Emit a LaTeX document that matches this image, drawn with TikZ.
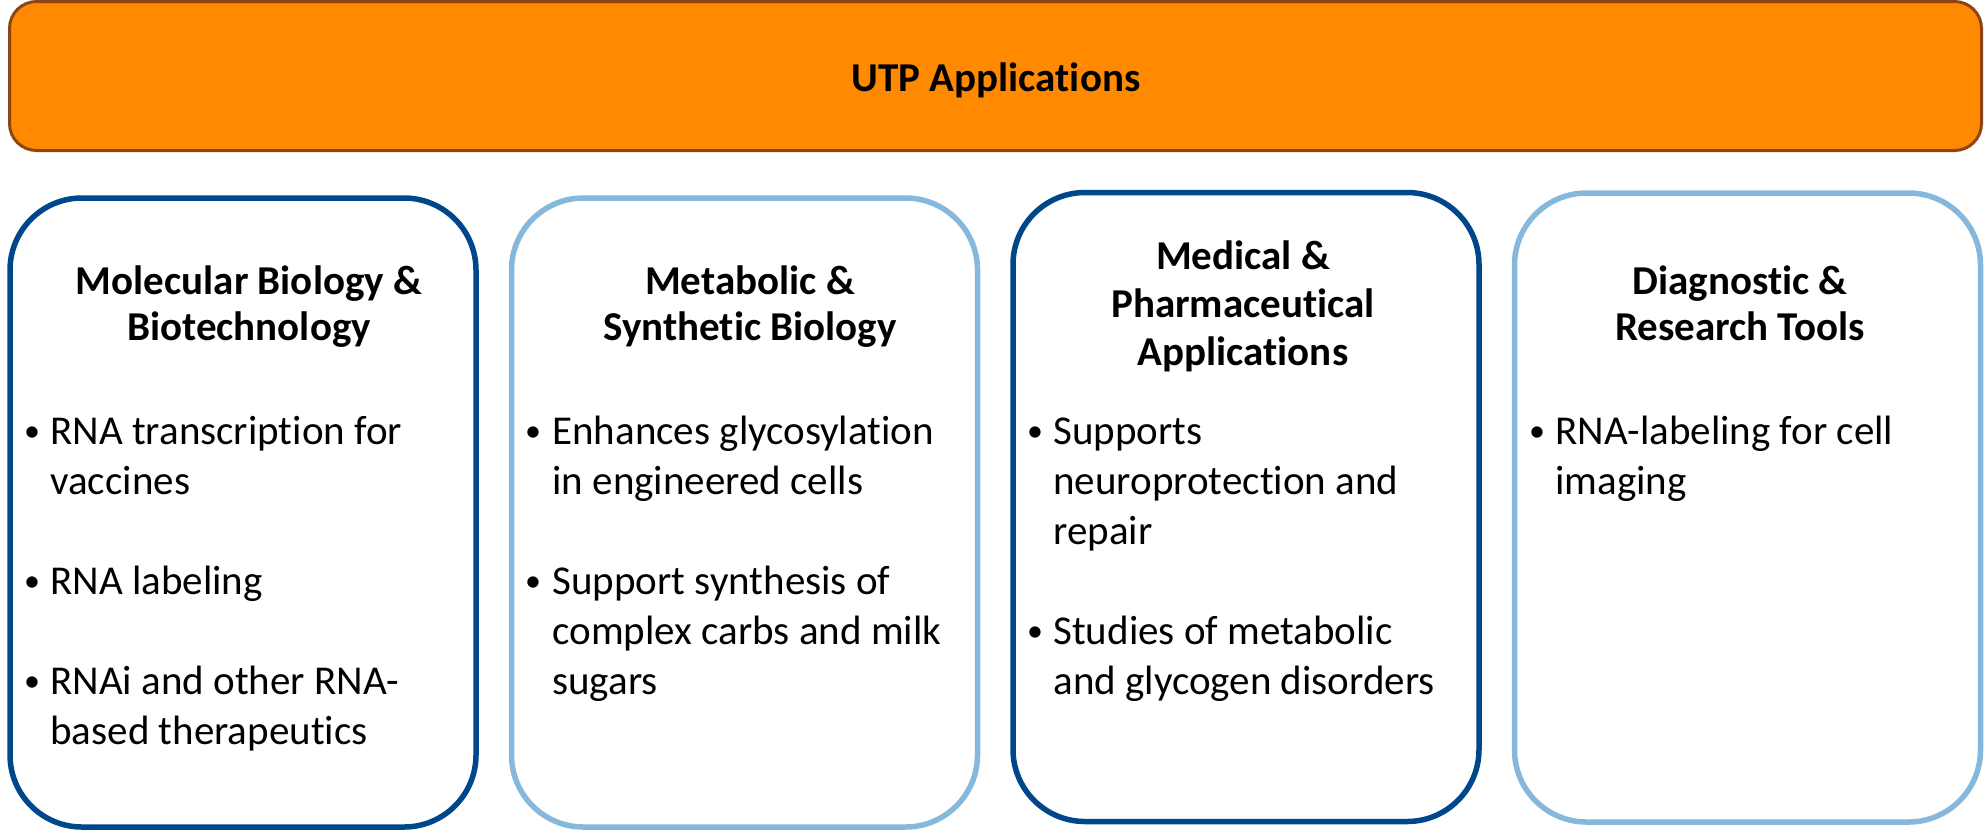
\documentclass[tikz,border=0pt]{standalone}
\usepackage{fontspec}
\setmainfont[Ligatures=NoCommon]{Carlito}
\definecolor{orangefill}{RGB}{255,137,0}
\definecolor{brownline}{RGB}{140,70,20}
\definecolor{darkblue}{RGB}{0,70,138}
\definecolor{lightblue}{RGB}{133,184,220}
\tikzset{
 topbox/.style={draw=brownline, fill=orangefill, line width=1.5pt, rounded corners=13.5pt, minimum width=986pt, minimum height=74.5pt, inner sep=0pt},
 catbox/.style={fill=white, line width=2.75pt, rounded corners=36pt, minimum width=233pt, minimum height=314.5pt, inner sep=0pt},
 darkbox/.style={catbox, draw=darkblue},
 lightbox/.style={catbox, draw=lightblue},
 head/.style={anchor=base, inner sep=0pt, font=\fontsize{20.5}{23}\selectfont\bfseries},
 txt/.style={anchor=base west, inner sep=0pt, font=\fontsize{20.5}{25}\selectfont},
 bul/.style={anchor=base, inner sep=0pt, font=\fontsize{16}{20}\selectfont},
}
\newcommand{\bdot}{\raisebox{1.8pt}{•}}
\begin{document}
\begin{tikzpicture}[x=0.5pt,y=-0.5pt]
\useasboundingbox (0,0) rectangle (1985,832);
% top banner
\node[topbox] (top) at (995.5,76) {};
\node[head] (title) at (996,91) {UTP Applications};
% category boxes
\node[darkbox] (b1) at (243,512.5) {};
\node[lightbox] (b2) at (744.5,512.5) {};
\node[darkbox] (b3) at (1246,507) {};
\node[lightbox] (b4) at (1747.5,507.5) {};
% box 1
\node[head] (h1a) at (249,294.6) {Molecular Biology \&};
\node[head] (h1b) at (249,340.4) {Biotechnology};
\node[bul] (d1a) at (32,444.6) {\bdot};
\node[txt] (t1a) at (50,444.6) {RNA transcription for};
\node[txt] (t1b) at (50,494.6) {vaccines};
\node[bul] (d1b) at (32,594.6) {\bdot};
\node[txt] (t1c) at (50,594.6) {RNA labeling};
\node[bul] (d1c) at (32,694.6) {\bdot};
\node[txt] (t1d) at (50,694.6) {RNAi and other RNA-};
\node[txt] (t1e) at (50,744.6) {based therapeutics};
% box 2
\node[head] (h2a) at (750,294.6) {Metabolic \&};
\node[head] (h2b) at (750,340.4) {Synthetic Biology};
\node[bul] (d2a) at (533,444.6) {\bdot};
\node[txt] (t2a) at (552,444.6) {Enhances glycosylation};
\node[txt] (t2b) at (552,494.6) {in engineered cells};
\node[bul] (d2b) at (533,594.6) {\bdot};
\node[txt] (t2c) at (552,594.6) {Support synthesis of};
\node[txt] (t2d) at (552,644.6) {complex carbs and milk};
\node[txt] (t2e) at (552,694.6) {sugars};
% box 3
\node[head] (h3a) at (1243,269.6) {Medical \&};
\node[head] (h3b) at (1243,317.5) {Pharmaceutical};
\node[head] (h3c) at (1243,365.4) {Applications};
\node[bul] (d3a) at (1035,444.6) {\bdot};
\node[txt] (t3a) at (1053,444.6) {Supports};
\node[txt] (t3b) at (1053,494.6) {neuroprotection and};
\node[txt] (t3c) at (1053,544.6) {repair};
\node[bul] (d3b) at (1035,644.6) {\bdot};
\node[txt] (t3d) at (1053,644.6) {Studies of metabolic};
\node[txt] (t3e) at (1053,694.6) {and glycogen disorders};
% box 4
\node[head] (h4a) at (1740,294.6) {Diagnostic \&};
\node[head] (h4b) at (1740,340.4) {Research Tools};
\node[bul] (d4a) at (1537,444.6) {\bdot};
\node[txt] (t4a) at (1555,444.6) {RNA-labeling for cell};
\node[txt] (t4b) at (1555,494.6) {imaging};
\end{tikzpicture}
\end{document}
